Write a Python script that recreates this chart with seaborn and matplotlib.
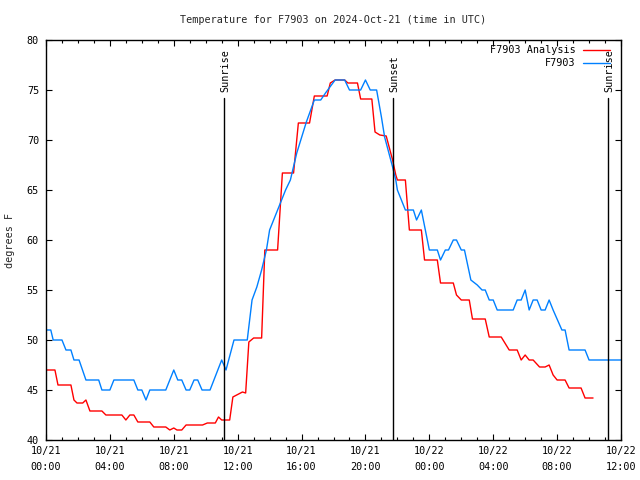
import numpy as np
import pandas as pd
import matplotlib
matplotlib.use("Agg")
import matplotlib.pyplot as plt
import seaborn as sns
from matplotlib.ticker import MultipleLocator, FixedLocator

# ---- data (hours since 2024-10-21 00:00 UTC, degrees F) ----
obs_hours = [0.0, 0.3, 0.45, 1.0, 1.25, 1.56, 1.75, 2.07, 2.5, 3.3, 3.5, 4.0, 4.25, 5.5,
             5.75, 6.0, 6.26, 6.5, 7.5, 8.0, 8.25, 8.5, 8.77, 9.0, 9.27, 9.5, 9.77, 10.27,
             11.0, 11.27, 11.77, 12.6, 12.9, 13.2, 13.5, 13.8, 14.0, 14.5, 15.0, 15.3,
             15.7, 16.3, 16.8, 17.2, 17.5, 18.1, 18.7, 19.0, 19.7, 20.0, 20.3, 20.7,
             21.0, 21.2, 21.7, 21.9, 22.0, 22.5, 23.0, 23.2, 23.5, 24.0, 24.5, 24.7,
             25.0, 25.2, 25.5, 25.7, 26.0, 26.2, 26.6, 27.0, 27.3, 27.5, 27.75, 28.0,
             28.25, 29.25, 29.5, 29.75, 30.0, 30.25, 30.5, 30.75, 31.0, 31.25, 31.5,
             31.75, 32.3, 32.5, 32.75, 33.75, 34.0, 36.0]
obs_temp = [51, 51, 50, 50, 49, 49, 48, 48, 46, 46, 45, 45, 46, 46,
            45, 45, 44, 45, 45, 47, 46, 46, 45, 45, 46, 46, 45, 45,
            48, 47, 50, 50, 54, 55.3, 57, 59, 61, 63, 65, 66,
            68.7, 71.8, 74, 74, 74.7, 76, 76, 75, 75, 76, 75, 75,
            72.3, 70.3, 67.3, 66, 65, 63, 63, 62, 63, 59, 59, 58,
            59, 59, 60, 60, 59, 59, 56, 55.5, 55, 55, 54, 54,
            53, 53, 54, 54, 55, 53, 54, 54, 53, 53, 54,
            53, 51, 51, 49, 49, 48, 48]

ana_hours = [0.0, 0.56, 0.75, 1.56, 1.75, 1.94, 2.3, 2.5, 2.75, 3.5, 3.75, 4.75, 5.0,
             5.25, 5.5, 5.75, 6.5, 6.75, 7.5, 7.75, 8.0, 8.2, 8.5, 8.77, 9.8, 10.1,
             10.6, 10.8, 11.0, 11.5, 11.7, 12.3, 12.5, 12.7, 13.0, 13.5, 13.7, 14.5,
             14.8, 15.5, 15.8, 16.5, 16.8, 17.6, 17.8, 18.1, 18.7, 18.9, 19.5, 19.7,
             20.4, 20.6, 20.9, 21.3, 21.7, 21.9, 22.0, 22.5, 22.75, 23.5, 23.7, 24.5,
             24.7, 25.5, 25.7, 26.0, 26.5, 26.7, 27.5, 27.75, 28.5, 29.0, 29.5, 29.75,
             30.0, 30.25, 30.5, 30.9, 31.25, 31.5, 31.75, 32.0, 32.5, 32.75, 33.5,
             33.75, 34.25]
ana_temp = [47, 47, 45.5, 45.5, 44, 43.7, 43.7, 44, 42.9, 42.9, 42.5, 42.5, 42,
            42.5, 42.5, 41.8, 41.8, 41.3, 41.3, 41, 41.2, 41, 41, 41.5, 41.5, 41.7,
            41.7, 42.3, 42, 42, 44.3, 44.8, 44.7, 49.8, 50.2, 50.2, 59, 59,
            66.7, 66.7, 71.7, 71.7, 74.4, 74.4, 75.7, 76, 76, 75.7, 75.7, 74.1,
            74.1, 70.8, 70.5, 70.4, 68, 66.5, 66, 66, 61, 61, 58, 58,
            55.7, 55.7, 54.5, 54, 54, 52.1, 52.1, 50.3, 50.3, 49, 49, 48,
            48.5, 48, 48, 47.3, 47.3, 47.5, 46.5, 46, 46, 45.2, 45.2,
            44.2, 44.2]

sun_events = ["Sunrise", "Sunset", "Sunrise"]
sun_hours = [11.15, 21.73, 35.2]

xtick_hours = [0, 4, 8, 12, 16, 20, 24, 28, 32, 36]
xtick_labels = ["10/21\n00:00", "10/21\n04:00", "10/21\n08:00", "10/21\n12:00",
                "10/21\n16:00", "10/21\n20:00", "10/22\n00:00", "10/22\n04:00",
                "10/22\n08:00", "10/22\n12:00"]
ytick_values = [40, 45, 50, 55, 60, 65, 70, 75, 80]

series_names = ["F7903 Analysis", "F7903"]
series_colors = ["#ff0000", "#0080ff"]

# ---- plot ----
sns.set_theme(style="white")
plt.rcParams['font.family'] = ['DejaVu Sans Mono']
FS = 7.3

fig = plt.figure(figsize=(6.4, 4.8), dpi=100)
ax = fig.add_axes([46/640, 40/480, 575/640, 400/480])

df_obs = pd.DataFrame({"h": obs_hours, "T": obs_temp})
df_ana = pd.DataFrame({"h": ana_hours, "T": ana_temp})

sns.lineplot(data=df_ana, x="h", y="T", color=series_colors[0], linewidth=1.0,
             estimator=None, sort=False, ax=ax, legend=False)
sns.lineplot(data=df_obs, x="h", y="T", color=series_colors[1], linewidth=1.0,
             estimator=None, sort=False, ax=ax, legend=False)

ax.set_xlim(0, 36)
ax.set_ylim(40, 80)

for name, h in zip(sun_events, sun_hours):
    ax.axvline(h, ymin=0, ymax=(74.2 - 40) / 40, color="black", linewidth=1.0)
    ax.text(h + 0.1, 74.8, name, rotation=90, ha="center", va="bottom",
            fontsize=FS, color="black")

# manual gnuplot-like legend
leg_y = [0.975, 0.9425]
for name, col, yy in zip(series_names, series_colors, leg_y):
    ax.text(0.921, yy, name, transform=ax.transAxes, ha="right", va="center",
            fontsize=FS, color="black")
    ax.plot([0.934, 0.981], [yy, yy], transform=ax.transAxes, color=col,
            linewidth=1.0)

ax.xaxis.set_major_locator(FixedLocator(xtick_hours))
ax.set_xticklabels(xtick_labels, fontsize=FS, linespacing=1.8)
ax.xaxis.set_minor_locator(MultipleLocator(1))
ax.yaxis.set_major_locator(FixedLocator(ytick_values))
ax.set_yticklabels([str(v) for v in ytick_values], fontsize=FS)

ax.tick_params(axis="both", which="major", direction="in", length=4.5, width=0.8,
               top=True, right=True, bottom=True, left=True, color="black",
               labelcolor="black")
ax.tick_params(axis="x", which="minor", direction="in", length=2.3, width=0.8,
               top=True, bottom=True, color="black")
ax.tick_params(axis="x", which="major", pad=4)
ax.tick_params(axis="y", which="major", pad=5)

for sp in ax.spines.values():
    sp.set_color("black")
    sp.set_linewidth(1.0)
ax.grid(False)
ax.set_xlabel("")
ax.set_ylabel("")

fig.text(10/640, 1 - 240/480, "degrees F", rotation=90, ha="center", va="center",
         fontsize=FS)
fig.text(333.5/640, 1 - 20/480, "Temperature for F7903 on 2024-Oct-21 (time in UTC)",
         ha="center", va="center", fontsize=FS)

fig.savefig("out.png", dpi=100)
